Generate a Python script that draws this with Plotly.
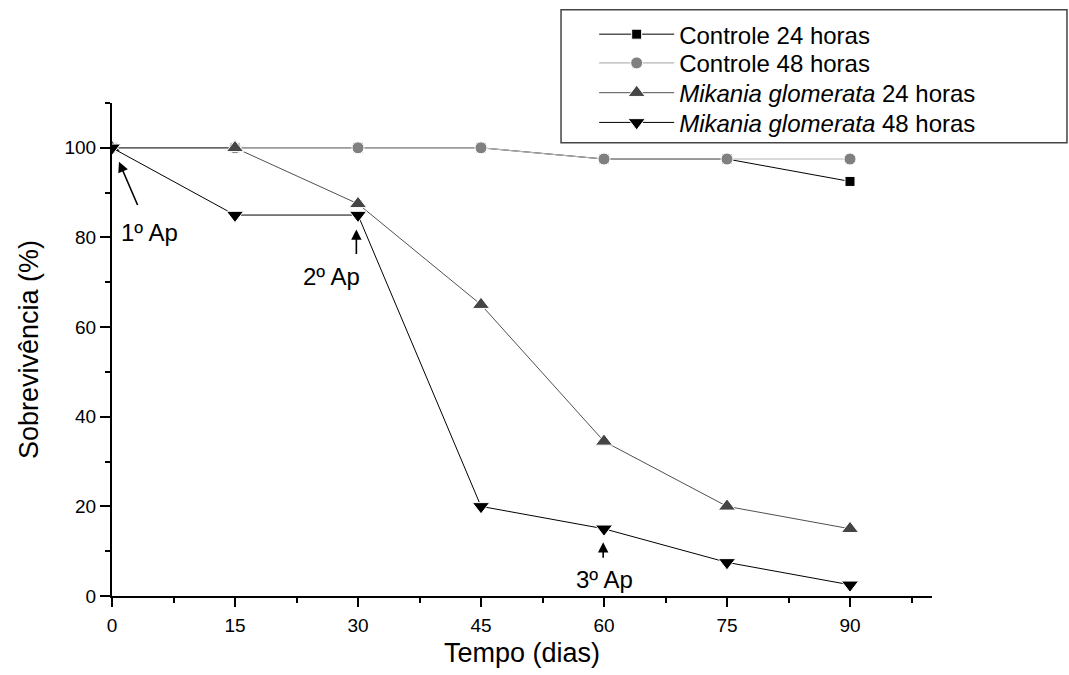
import plotly.graph_objects as go

dias = [0, 15, 30, 45, 60, 75, 90]
controle_24 = [100, 100, 100, 100, 97.5, 97.5, 92.5]
controle_48 = [100, 100, 100, 100, 97.5, 97.5, 97.5]
mikania_24 = [100, 100, 87.5, 65, 34.5, 20, 15]
mikania_48 = [100, 85, 85, 20, 15, 7.5, 2.5]

nomes = ["Controle 24 horas", "Controle 48 horas",
         "<i>Mikania glomerata</i> 24 horas", "<i>Mikania glomerata</i> 48 horas"]

FONT = "Liberation Sans, Arial, sans-serif"

fig = go.Figure()
fig.add_trace(go.Scatter(x=dias, y=controle_24, name=nomes[0], mode="lines+markers", legend="legend",
                         line=dict(color="black", width=1),
                         marker=dict(symbol="square", size=10, color="black",
                                     line=dict(color="white", width=1))))
fig.add_trace(go.Scatter(x=dias, y=controle_48, name=nomes[1], mode="lines+markers", legend="legend2",
                         line=dict(color="#b4b4b4", width=1.2),
                         marker=dict(symbol="circle", size=12, color="#808080",
                                     line=dict(color="white", width=1))))
fig.add_trace(go.Scatter(x=dias, y=mikania_24, name=nomes[2], mode="lines+markers", legend="legend3",
                         line=dict(color="#505050", width=1),
                         marker=dict(symbol="triangle-up", size=15, color="#454545",
                                     line=dict(color="white", width=1))))
fig.add_trace(go.Scatter(x=dias, y=mikania_48, name=nomes[3], mode="lines+markers", legend="legend4",
                         line=dict(color="black", width=1),
                         marker=dict(symbol="triangle-down", size=15, color="black",
                                     line=dict(color="white", width=1))))

# arrows
arrows = [((0.85, 96.9), (3.2, 86.9)), ((29.8, 81.8), (29.8, 76.0)), ((59.9, 12.0), (59.9, 8.2))]
for (tx, ty), (sx, sy) in arrows:
    fig.add_annotation(x=tx, y=ty, ax=sx, ay=sy, xref="x", yref="y", axref="x", ayref="y",
                       text="", showarrow=True, arrowhead=2, arrowsize=1.3, arrowwidth=1.6,
                       arrowcolor="black", standoff=0, startstandoff=0)
labels = [("1º Ap", 4.6, 81.0), ("2º Ap", 26.8, 71.2), ("3º Ap", 60.0, 3.6)]
for t, x, y in labels:
    fig.add_annotation(x=x, y=y, xref="x", yref="y", text=t, showarrow=False,
                       font=dict(family=FONT, size=24, color="black"))

# legend frame
fig.add_shape(type="rect", xref="paper", yref="paper", x0=0.5476, x1=1.1646, y0=0.9195, y1=1.1891,
              line=dict(color="#444444", width=1.5), fillcolor="white", layer="below")

def leg(y):
    return dict(x=0.588, y=y, xanchor="left", yanchor="middle",
                bgcolor="rgba(0,0,0,0)", borderwidth=0,
                font=dict(family=FONT, size=24, color="black"), itemwidth=75)

fig.update_layout(
    width=1069, height=675,
    margin=dict(l=112, r=137, t=102, b=76),
    paper_bgcolor="white", plot_bgcolor="white",
    font=dict(family=FONT, color="black"),
    showlegend=True,
    legend=leg(1.1388), legend2=leg(1.0805), legend3=leg(1.0201), legend4=leg(0.9598),
    xaxis=dict(range=[0, 100], tick0=0, dtick=15, showline=True, linecolor="black", linewidth=2,
               ticks="outside", ticklen=9, tickwidth=2, tickcolor="black", showgrid=False,
               zeroline=False, tickfont=dict(size=19, color="black"), ticklabelstandoff=2,
               minor=dict(dtick=7.5, tick0=0, ticks="outside", ticklen=5, tickwidth=2, tickcolor="black"),
               title=dict(text="Tempo (dias)", font=dict(size=27, color="black"), standoff=8)),
    yaxis=dict(range=[0, 110], tick0=0, dtick=20, showline=True, linecolor="black", linewidth=2,
               ticks="outside", ticklen=10, tickwidth=2, tickcolor="black", showgrid=False,
               zeroline=False, tickfont=dict(size=19, color="black"),
               minor=dict(dtick=10, tick0=0, ticks="outside", ticklen=5, tickwidth=2, tickcolor="black"),
               title=dict(text="Sobrevivência (%)", font=dict(size=27, color="black"), standoff=18)),
)

fig.write_html("out.html")
